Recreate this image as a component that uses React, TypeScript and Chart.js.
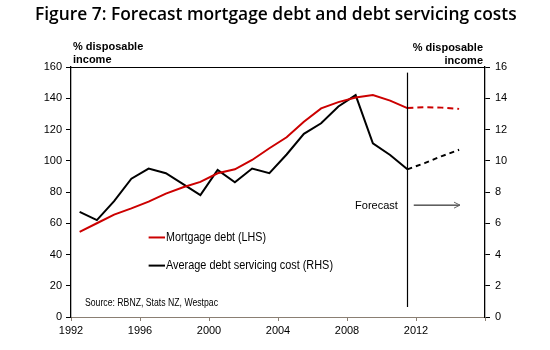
import React, { useEffect, useRef } from "react";
import { Chart, registerables } from "chart.js";
Chart.register(...registerables);

// Annual observations (plotted mid-year)
const years = [1992.5, 1993.5, 1994.5, 1995.5, 1996.5, 1997.5, 1998.5, 1999.5, 2000.5, 2001.5, 2002.5, 2003.5, 2004.5, 2005.5, 2006.5, 2007.5, 2008.5, 2009.5, 2010.5, 2011.5];
const mortgageDebt = [54.5, 60, 65.5, 69.5, 73.8, 79, 83, 86.5, 92, 94.5, 100.5, 108, 115, 125, 133.5, 137.5, 140.5, 142, 138.5, 133.7];
const debtServicing = [6.73, 6.2, 7.42, 8.85, 9.5, 9.2, 8.5, 7.8, 9.41, 8.62, 9.5, 9.2, 10.4, 11.72, 12.4, 13.47, 14.2, 11.12, 10.37, 9.45];
const forecastYears = [2011.5, 2012.5, 2013.5, 2014.5];
const mortgageForecast = [133.7, 134.3, 134.0, 133.2];
const servicingForecast = [9.45, 9.85, 10.3, 10.7];
const xTickYears = [1992, 1996, 2000, 2004, 2008, 2012, 2016];
const xTickLabels = ["1992", "1996", "2000", "2004", "2008", "2012", ""];

const title = "Figure 7: Forecast mortgage debt and debt servicing costs";
const leftTitle = ["% disposable", "income"];
const rightTitle = ["% disposable", "income"];
const legendLabels = ["Mortgage debt (LHS)", "Average debt servicing cost (RHS)"];
const sourceText = "Source: RBNZ, Stats NZ, Westpac";
const forecastLabel = "Forecast";
const forecastStart = 2011.5;

const RED = "#cc0000";
const BLACK = "#000000";
const AXIS_GRAY = "#8a7f73";
const FONT = "'Liberation Sans', Arial, sans-serif";

const pts = (xs: number[], ys: number[]) => xs.map((x, i) => ({ x, y: ys[i] }));

function fitFont(ctx: CanvasRenderingContext2D, text: string, weight: string, family: string, target: number) {
  let fs = 12;
  ctx.font = `${weight} ${fs}px ${family}`;
  const w = ctx.measureText(text).width;
  fs = (fs * target) / w;
  ctx.font = `${weight} ${fs}px ${family}`;
}

// draw text at a fixed font size, squeezed horizontally to a target width
function condensedText(ctx: CanvasRenderingContext2D, text: string, font: string, x: number, y: number, target: number) {
  ctx.font = font;
  const w = ctx.measureText(text).width;
  const k = Math.min(1, target / w);
  ctx.save();
  ctx.translate(x, y);
  ctx.scale(k, 1);
  ctx.fillText(text, 0, 0);
  ctx.restore();
}

export default function App() {
  const ref = useRef<HTMLCanvasElement | null>(null);
  useEffect(() => {
    document.body.style.margin = "0";
    const canvas = ref.current!;
    const overlay = {
      id: "overlay",
      afterDraw(chart: any) {
        const ctx = chart.ctx as CanvasRenderingContext2D;
        const ca = chart.chartArea;
        const xs = chart.scales.x;
        const yl = chart.scales.y;
        const yr = chart.scales.y2;
        ctx.save();
        // top border
        ctx.strokeStyle = "#000";
        ctx.lineWidth = 1;
        ctx.beginPath();
        ctx.moveTo(ca.left, ca.top + 0.5);
        ctx.lineTo(ca.right, ca.top + 0.5);
        ctx.stroke();

        // title
        ctx.fillStyle = "#000";
        ctx.textBaseline = "alphabetic";
        ctx.textAlign = "left";
        fitFont(ctx, title, "600", "'Open Sans', sans-serif", 482);
        ctx.fillText(title, 35, 20);

        // axis titles
        ctx.font = `bold 11px ${FONT}`;
        ctx.textBaseline = "middle";
        ctx.textAlign = "left";
        ctx.fillText(leftTitle[0], 73, 47);
        ctx.fillText(leftTitle[1], 73, 59.5);
        ctx.textAlign = "right";
        ctx.fillText(rightTitle[0], 483, 48);
        ctx.fillText(rightTitle[1], 483, 61);

        // forecast vertical line
        const fx = Math.round(xs.getPixelForValue(forecastStart)) + 0.5;
        ctx.strokeStyle = "#000";
        ctx.lineWidth = 1.2;
        ctx.beginPath();
        ctx.moveTo(fx, yl.getPixelForValue(156.4));
        ctx.lineTo(fx, yl.getPixelForValue(6.4));
        ctx.stroke();

        // Forecast label + arrow
        const ay = yr.getPixelForValue(7.16);
        ctx.font = `11px ${FONT}`;
        ctx.textAlign = "right";
        ctx.textBaseline = "middle";
        ctx.fillText(forecastLabel, xs.getPixelForValue(2010.95), ay + 1);
        const ax1 = xs.getPixelForValue(2011.87);
        const ax2 = xs.getPixelForValue(2014.55);
        ctx.lineWidth = 1;
        ctx.beginPath();
        ctx.moveTo(ax1, ay);
        ctx.lineTo(ax2, ay);
        ctx.stroke();
        ctx.strokeStyle = "#666";
        ctx.beginPath();
        ctx.moveTo(ax2 - 6, ay - 3);
        ctx.lineTo(ax2, ay);
        ctx.lineTo(ax2 - 6, ay + 3);
        ctx.stroke();

        // legend
        const lx1 = xs.getPixelForValue(1996.5);
        const lx2 = xs.getPixelForValue(1997.45);
        const ly = [yl.getPixelForValue(50.9), yl.getPixelForValue(32.9)];
        const cols = [RED, BLACK];
        const widths = [100, 167];
        ctx.textAlign = "left";
        ctx.textBaseline = "middle";
        for (let i = 0; i < 2; i++) {
          ctx.strokeStyle = cols[i];
          ctx.lineWidth = 2;
          ctx.beginPath();
          ctx.moveTo(lx1, ly[i]);
          ctx.lineTo(lx2, ly[i]);
          ctx.stroke();
          ctx.fillStyle = "#000";
          condensedText(ctx, legendLabels[i], `12px ${FONT}`, lx2 + 1, ly[i] + 0.5, widths[i]);
        }

        // source
        condensedText(ctx, sourceText, `10px ${FONT}`, 85, yl.getPixelForValue(8.8), 133);
        ctx.restore();
      },
    };

    const chart = new Chart(canvas, {
      type: "line",
      data: {
        datasets: [
          { label: legendLabels[0], data: pts(years, mortgageDebt), borderColor: RED, borderWidth: 2, pointRadius: 0, yAxisID: "y", tension: 0 },
          { label: legendLabels[0] + " forecast", data: pts(forecastYears, mortgageForecast), borderColor: RED, borderWidth: 2, borderDash: [6, 4], pointRadius: 0, yAxisID: "y" },
          { label: legendLabels[1], data: pts(years, debtServicing), borderColor: BLACK, borderWidth: 2, pointRadius: 0, yAxisID: "y2", tension: 0 },
          { label: legendLabels[1] + " forecast", data: pts(forecastYears, servicingForecast), borderColor: BLACK, borderWidth: 2, borderDash: [5, 4], pointRadius: 0, yAxisID: "y2" },
        ],
      },
      options: {
        responsive: false,
        animation: false,
        devicePixelRatio: 1,
        layout: { padding: { top: 67, left: 0, right: 0, bottom: 0 } },
        plugins: { legend: { display: false }, tooltip: { enabled: false }, title: { display: false } },
        scales: {
          x: {
            type: "linear",
            min: 1992,
            max: 2016,
            afterBuildTicks: (s: any) => { s.ticks = xTickYears.map((v) => ({ value: v })); },
            afterFit: (s: any) => { s.height = 33; },
            ticks: {
              autoSkip: false,
              maxRotation: 0,
              padding: 3,
              color: "#000",
              font: { size: 11, family: FONT },
              callback: (v: any) => { const i = xTickYears.indexOf(Number(v)); return i >= 0 ? xTickLabels[i] : ""; },
            },
            grid: { drawOnChartArea: false, drawTicks: true, tickLength: 4, color: AXIS_GRAY },
            border: { color: AXIS_GRAY, width: 1 },
          },
          y: {
            position: "left",
            min: 0,
            max: 160,
            afterFit: (s: any) => { s.width = 71; },
            ticks: { stepSize: 20, padding: 4, color: "#000", font: { size: 11, family: FONT } },
            grid: { drawOnChartArea: false, drawTicks: true, tickLength: 5, color: "#000" },
            border: { color: "#000", width: 1.3 },
          },
          y2: {
            position: "right",
            min: 0,
            max: 16,
            afterFit: (s: any) => { s.width = 65; },
            ticks: { stepSize: 2, padding: 5, color: "#000", font: { size: 11, family: FONT } },
            grid: { drawOnChartArea: false, drawTicks: true, tickLength: 5, color: "#000" },
            border: { color: "#000", width: 1.3 },
          },
        },
      },
      plugins: [overlay],
    } as any);
    return () => chart.destroy();
  }, []);
  return (
    <div style={{ position: "absolute", left: 0, top: 0, width: 550, height: 350, background: "#fff" }}>
      <canvas ref={ref} width={550} height={350} />
    </div>
  );
}
